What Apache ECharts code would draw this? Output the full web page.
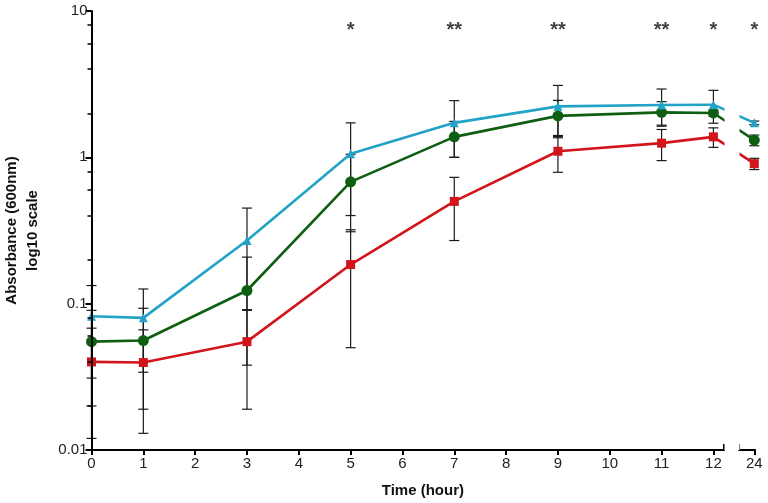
<!DOCTYPE html>
<html><head><meta charset="utf-8">
<script src="https://cdn.jsdelivr.net/npm/echarts@6/dist/echarts.min.js"></script>
<style>html,body{margin:0;padding:0;background:#fff}#c{width:768px;height:503px}</style>
</head><body><div id="c"></div>
<script>
// ---- data ----
const times   = [0, 1, 3, 5, 7, 9, 11, 12, 24];
const cyanVal = [0.082, 0.080, 0.27, 1.06, 1.72, 2.23, 2.28, 2.29, 1.72];
const cyanSD  = [0.051, 0.046, 0.18, 0.66, 0.72, 0.87, 0.65, 0.58, 0.05];
const greenVal= [0.055, 0.056, 0.123, 0.68, 1.38, 1.92, 2.03, 2.01, 1.31];
const greenSD = [0.035, 0.037, 0.085, 0.37, 0.38, 0.53, 0.37, 0.10, 0.11];
const redVal  = [0.040, 0.0396, 0.055, 0.185, 0.50, 1.10, 1.25, 1.38, 0.905];
const redSD   = [0.028, 0.0266, 0.036, 0.135, 0.23, 0.31, 0.30, 0.21, 0.08];
const sigTimes = [5, 7, 9, 11, 12, 24];
const sigMarks = ['*', '**', '**', '**', '*', '*'];
const sigLevel = 7.4;
const xTicks = [0,1,2,3,4,5,6,7,8,9,10,11,12,24];
const xBreak = [12.2, 23.7];
const yTicks = [0.01, 0.1, 1, 10];
const yTickLabels = ['0.01', '0.1', '1', '10'];
const yMinorTicks = [0.02,0.04,0.06,0.08,0.2,0.4,0.6,0.8,2,4,6,8];

const FONT = 'Liberation Sans, Arial, sans-serif';
const C_CYAN = '#22a3c6', C_GREEN = '#0f5f12', C_RED = '#d2141b';

function errSeries(vals, sds) {
  return {
    type: 'custom', z: 5, silent: true, clip: false,
    data: times.map((t, i) => [t, vals[i] - sds[i], vals[i] + sds[i]]),
    encode: { x: 0, y: [1, 2] },
    renderItem(params, api) {
      const x = api.value(0);
      const lo = api.coord([x, api.value(1)]);
      const hi = api.coord([x, api.value(2)]);
      const w = 5, st = { stroke: '#1a1a1a', lineWidth: 1.2 };
      return { type: 'group', children: [
        { type: 'line', shape: { x1: lo[0], y1: lo[1], x2: hi[0], y2: hi[1] }, style: st },
        { type: 'line', shape: { x1: lo[0] - w, y1: lo[1], x2: lo[0] + w, y2: lo[1] }, style: st },
        { type: 'line', shape: { x1: hi[0] - w, y1: hi[1], x2: hi[0] + w, y2: hi[1] }, style: st }
      ]};
    }
  };
}
function lineSeries(vals, color, symbol, size) {
  return {
    type: 'line', z: 6, data: times.map((t, i) => [t, vals[i]]),
    symbol, symbolSize: size, showSymbol: true,
    lineStyle: { color, width: 2.6 }, itemStyle: { color, borderWidth: 0 },
    emphasis: { disabled: true }
  };
}

const breaks = [{ start: xBreak[0], end: xBreak[1], gap: '2.26%' }];
const gridRect = { left: 91.5, right: 13.7, top: 11, bottom: 53, outerBoundsMode: 'none' };
const blank = () => '';

const chart = echarts.init(document.getElementById('c'));
chart.setOption({
  animation: false,
  backgroundColor: '#fff',
  grid: [Object.assign({}, gridRect), Object.assign({}, gridRect)],
  xAxis: [
    {
      gridIndex: 0, type: 'value', min: 0, max: 24, z: 10, breaks,
      breakArea: { show: true, zigzagAmplitude: 0, itemStyle: { color: '#fff', borderColor: '#fff', borderWidth: 0, opacity: 1 } },
      axisLine: { show: true, lineStyle: { color: '#000', width: 2 } },
      axisTick: { show: true, length: 5, customValues: xTicks, lineStyle: { color: '#000', width: 2 } },
      axisLabel: { customValues: xTicks, fontSize: 15, color: '#222', margin: 6, fontFamily: FONT },
      splitLine: { show: false },
      name: 'Time (hour)', nameLocation: 'middle', nameGap: 33,
      nameTextStyle: { fontSize: 15, fontWeight: 'bold', color: '#111', fontFamily: FONT }
    },
    {
      gridIndex: 1, type: 'value', min: 0, max: 24, z: 12, position: 'bottom', breaks,
      breakArea: { show: false },
      axisLine: { show: true, lineStyle: { color: '#000', width: 2, opacity: 0 } },
      axisTick: { show: true, inside: true, length: 6, customValues: xBreak, lineStyle: { color: '#000', width: 2 } },
      axisLabel: { show: true, customValues: xBreak, formatter: blank }, splitLine: { show: false }
    }
  ],
  yAxis: [
    {
      gridIndex: 0, type: 'log', logBase: 10, min: 0.01, max: 10, z: 10,
      axisLine: { show: true, lineStyle: { color: '#000', width: 2 } },
      axisTick: { show: true, length: 6, customValues: yTicks, lineStyle: { color: '#000', width: 2 } },
      axisLabel: { customValues: yTicks, fontSize: 15, color: '#222', margin: 4, fontFamily: FONT,
        formatter: v => { const i = yTicks.findIndex(t => Math.abs(Math.log10(t) - Math.log10(v)) < 1e-6); return i >= 0 ? yTickLabels[i] : ''; } },
      splitLine: { show: false },
      name: 'Absorbance (600nm)\nlog10 scale', nameLocation: 'middle', nameGap: 48,
      nameTextStyle: { fontSize: 15, fontWeight: 'bold', color: '#111', fontFamily: FONT, lineHeight: 21 }
    },
    {
      gridIndex: 1, type: 'log', logBase: 10, min: 0.01, max: 10, position: 'left', z: 11,
      axisLine: { show: true, lineStyle: { color: '#000', width: 2, opacity: 0 } },
      axisTick: { show: true, length: 4, customValues: yMinorTicks, lineStyle: { color: '#000', width: 1.5 } },
      axisLabel: { show: true, customValues: yMinorTicks, formatter: blank }, splitLine: { show: false }
    }
  ],
  series: [
    errSeries(redVal, redSD),
    errSeries(greenVal, greenSD),
    errSeries(cyanVal, cyanSD),
    lineSeries(redVal, C_RED, 'rect', 9),
    lineSeries(greenVal, C_GREEN, 'circle', 11),
    lineSeries(cyanVal, C_CYAN, 'triangle', 9),
    {
      type: 'scatter', z: 7, symbolSize: 1, itemStyle: { color: 'rgba(0,0,0,0)' }, silent: true,
      data: sigTimes.map((t, i) => ({ value: [t, sigLevel], label: { formatter: sigMarks[i] } })),
      label: { show: true, position: 'inside', fontSize: 20, fontWeight: 'bold', color: '#111', fontFamily: FONT }
    },
    {
      // invisible anchor so the overlay axes (minor ticks, break caps) are not blank
      type: 'scatter', xAxisIndex: 1, yAxisIndex: 1, silent: true, symbolSize: 0,
      itemStyle: { opacity: 0 }, data: times.map((t, i) => [t, redVal[i]])
    }
  ]
});
</script></body></html>
